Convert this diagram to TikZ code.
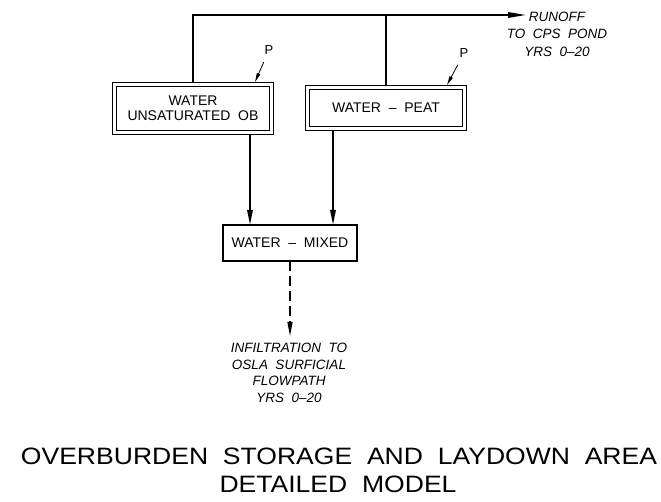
\documentclass[tikz,border=0pt]{standalone}
\usepackage{fontspec}
\usepackage{graphicx}
\setmainfont{Liberation Sans}
\usetikzlibrary{arrows.meta,calc}
\begin{document}
\begin{tikzpicture}[x=1pt,y=-1pt,
  box2/.style={draw,double,double distance=2.2pt,line width=1.4pt,inner sep=0pt,outer sep=0pt,align=center,font=\fontsize{14}{15}\selectfont},
  box1/.style={draw,line width=1.7pt,inner sep=0pt,outer sep=0pt,align=center,font=\fontsize{14}{15}\selectfont},
  conn/.style={line width=1.7pt},
  arr/.style={conn,-{Triangle[length=15pt,width=5.5pt]}},
  parr/.style={line width=0.8pt,-{Triangle[length=9pt,width=3.5pt]}},
  lbl/.style={inner sep=0pt,align=center,font=\fontsize{13.5}{16.5}\selectfont\itshape},
  ptext/.style={inner sep=0pt,font=\fontsize{13}{13}\selectfont},
  ttl/.style={inner sep=0pt,font=\fontsize{23.7}{28}\selectfont},
  ]
\useasboundingbox (0,0) rectangle (661,502);

% boxes
\node[box2, minimum width=157pt, minimum height=48pt] (L) at (193,108.5) {WATER\\UNSATURATED\ \ OB};
\node[box2, minimum width=157pt, minimum height=41pt] (R) at (386,108) {WATER\ \ --\ \ PEAT};
\node[box1, minimum width=134.3pt, minimum height=36.3pt] (M) at (290,243) {WATER\ \ --\ \ MIXED};

% runoff
\node[lbl, font=\fontsize{13.5}{17.5}\selectfont\itshape] (ro) at (557,34) {RUNOFF\\TO\ \ CPS\ \ POND\\YRS\ \ 0--20};
\coordinate (roin) at (526,15);
\draw[conn, -{Triangle[length=18pt,width=5.5pt]}, shorten <=2.5pt] (L.north) |- (roin);
\draw[conn, shorten <=2.5pt] (R.north) -- (R.north |- roin);

% P arrows
\node[ptext] (pL) at (269,50) {P};
\coordinate (tL) at (255,82);
\draw[parr, shorten <=8pt] (pL) -- (tL);
\node[ptext] (pR) at (464,53) {P};
\coordinate (tR) at (447,85);
\draw[parr, shorten <=8pt] (pR) -- (tR);

% down arrows
\draw[arr, shorten <=2.5pt] ([xshift=57pt]L.south) -- ([xshift=57pt]L.south |- M.north);
\draw[arr, shorten <=2.5pt] ([xshift=-53pt]R.south) -- ([xshift=-53pt]R.south |- M.north);

% infiltration
\node[lbl, anchor=north] (inf) at (289,343) {INFILTRATION\ \ TO\\OSLA\ \ SURFICIAL\\FLOWPATH\\YRS\ \ 0--20};
\draw[line width=1.3pt, dash pattern=on 10pt off 5pt, -{Triangle[length=14pt,width=5pt]}, shorten >=7pt] (M.south) -- (M.south |- inf.north);

% title
\node[ttl] (t1) at (339,456) {\scalebox{1.12}[1]{OVERBURDEN\ \ STORAGE\ \ AND\ \ LAYDOWN\ \ AREA}};
\node[ttl] (t2) at (338,484) {\scalebox{1.12}[1]{DETAILED\ \ MODEL}};
\end{tikzpicture}
\end{document}
